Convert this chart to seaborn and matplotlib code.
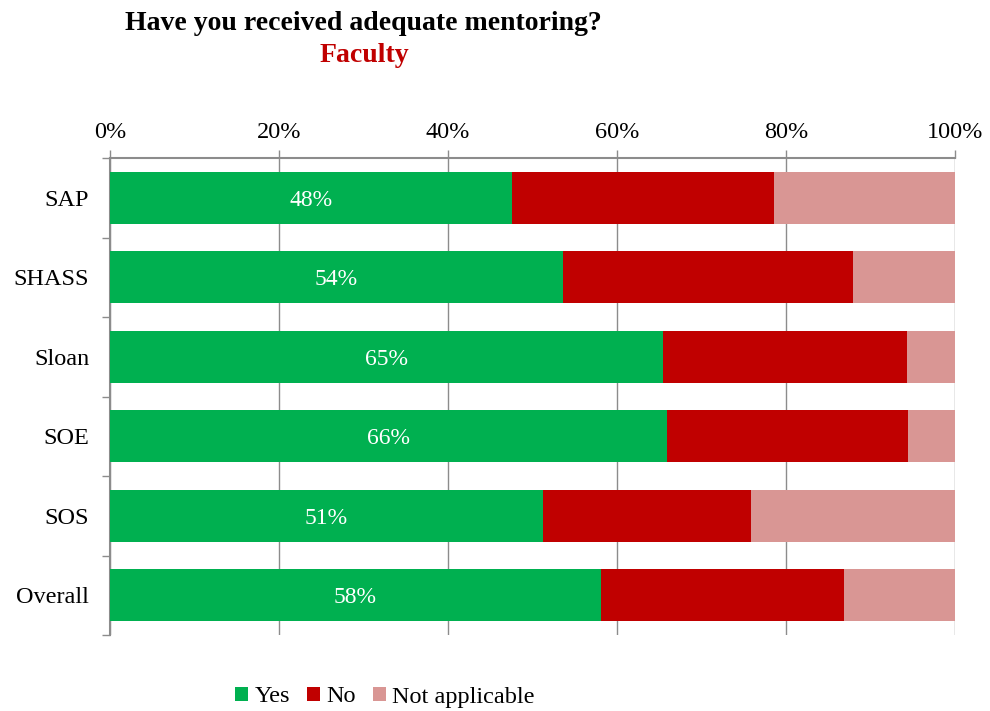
import numpy as np
import pandas as pd
import matplotlib
matplotlib.use("Agg")
import matplotlib.pyplot as plt
from matplotlib.patches import Patch
from matplotlib.ticker import FuncFormatter
import seaborn as sns

# Survey responses (% of faculty) by school
schools = ["SAP", "SHASS", "Sloan", "SOE", "SOS", "Overall"]
yes_pct = [47.6, 53.6, 65.4, 65.9, 51.2, 58.1]
no_pct = [31.0, 34.3, 28.9, 28.5, 24.6, 28.8]
na_pct = [100 - y - n for y, n in zip(yes_pct, no_pct)]

series_names = ["Yes", "No", "Not applicable"]
colors = {"Yes": "#00B050", "No": "#C00000", "Not applicable": "#D99694"}

sns.set_theme(style="white")
plt.rcParams["font.family"] = ["Liberation Serif", "DejaVu Serif"]
plt.rcParams["text.color"] = "black"
plt.rcParams["xtick.labelcolor"] = "black"
plt.rcParams["ytick.labelcolor"] = "black"

df = pd.DataFrame({"school": schools, "Yes": yes_pct, "No": no_pct,
                   "Not applicable": na_pct})
df["cum_yes"] = df["Yes"]
df["cum_no"] = df["Yes"] + df["No"]
df["cum_na"] = df["cum_no"] + df["Not applicable"]

fig = plt.figure(figsize=(9.9, 7.11), dpi=100)
ax = fig.add_axes([110 / 990, 1 - 635 / 711, 845 / 990, 477 / 711])

# stacked bars drawn as cumulative layers, widest first
for col, name in [("cum_na", "Not applicable"), ("cum_no", "No"), ("cum_yes", "Yes")]:
    sns.barplot(data=df, x=col, y="school", order=schools, color=colors[name],
                width=0.65, saturation=1, orient="h", ax=ax, zorder=2,
                edgecolor="none", linewidth=0)

# value labels on the "Yes" segment
for i, v in enumerate(yes_pct):
    ax.text(v / 2, i, f"{round(v):.0f}%", ha="center", va="center_baseline",
            color="white", fontsize=17, zorder=3)

ax.set_xlim(0, 100)
ax.set_ylim(len(schools) - 0.5, -0.5)
ax.set_xlabel("")
ax.set_ylabel("")

ax.xaxis.tick_top()
ax.set_xticks(np.arange(0, 101, 20))
ax.xaxis.set_major_formatter(FuncFormatter(lambda v, p: f"{v:.0f}%"))
ax.tick_params(axis="x", which="major", direction="out", length=6, width=1,
               color="#8C8C8C", labelcolor="black", labelsize=17.5, pad=5,
               top=True, bottom=False)

# category labels on major ticks, separator ticks on minor
ax.set_yticks(range(len(schools)))
ax.set_yticklabels(schools)
ax.set_yticks(np.arange(-0.5, len(schools), 1), minor=True)
ax.tick_params(axis="y", which="major", length=0, labelsize=17.5, pad=15,
               labelcolor="black")
ax.tick_params(axis="y", which="minor", direction="out", length=6, width=1,
               color="#8C8C8C", left=True)

ax.grid(axis="x", color="#8C8C8C", linewidth=1, zorder=0)
ax.set_axisbelow(True)
for side in ["bottom", "right"]:
    ax.spines[side].set_visible(False)
for side in ["top", "left"]:
    ax.spines[side].set_color("#8C8C8C")
    ax.spines[side].set_linewidth(1.5)
    ax.spines[side].set_zorder(1)

fig.text(363 / 990, 1 - 23 / 711, "Have you received adequate mentoring?",
         ha="center", va="center", fontsize=20, fontweight="bold", color="black")
fig.text(364 / 990, 1 - 55 / 711, "Faculty", ha="center", va="center",
         fontsize=20, fontweight="bold", color="#C00000")

handles = [Patch(facecolor=colors[n], edgecolor="none", label=n) for n in series_names]
fig.legend(handles=handles, loc="center", bbox_to_anchor=(385 / 990, 1 - 697 / 711),
           ncol=3, frameon=False, fontsize=17.5, handlelength=0.55, handleheight=0.55,
           handletextpad=0.25, columnspacing=0.7)

fig.savefig("out.png", dpi=100)
